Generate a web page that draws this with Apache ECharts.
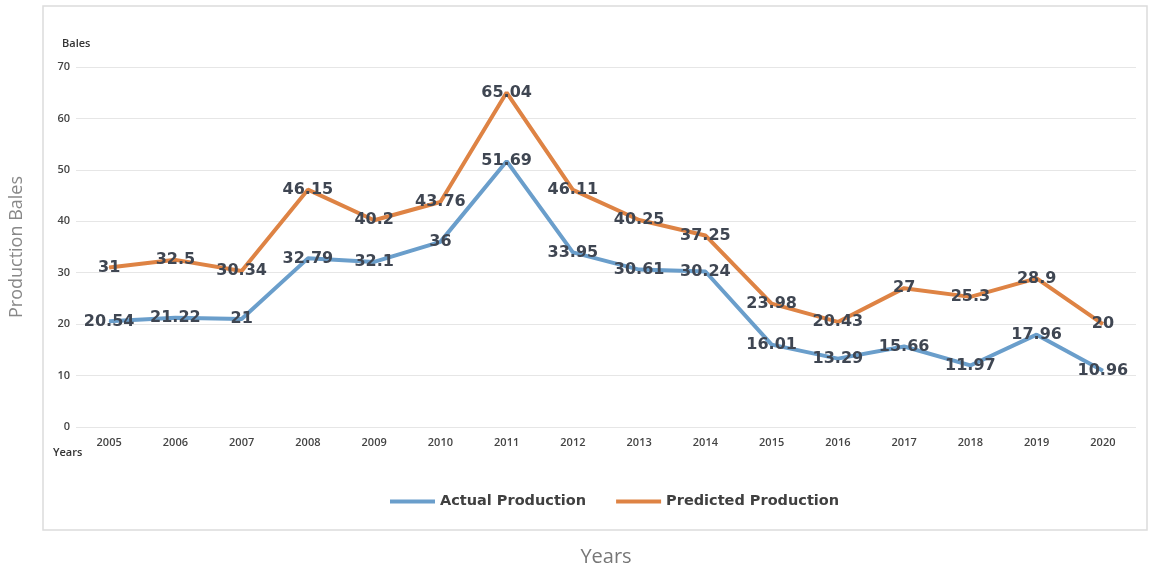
<!DOCTYPE html>
<html>
<head>
<meta charset="utf-8">
<script src="https://cdn.jsdelivr.net/npm/echarts@6/dist/echarts.min.js"></script>
<style>
  html, body { margin: 0; padding: 0; background: #fff; }
  #main { width: 1158px; height: 572px; }
</style>
</head>
<body>
<div id="main"></div>
<script>
// data
const years = ['2005', '2006', '2007', '2008', '2009', '2010', '2011', '2012',
  '2013', '2014', '2015', '2016', '2017', '2018', '2019', '2020'];
const actualProduction = [20.54, 21.22, 21, 32.79, 32.1, 36, 51.69, 33.95,
  30.61, 30.24, 16.01, 13.29, 15.66, 11.97, 17.96, 10.96];
const predictedProduction = [31, 32.5, 30.34, 46.15, 40.2, 43.76, 65.04, 46.11,
  40.25, 37.25, 23.98, 20.43, 27, 25.3, 28.9, 20];
const yTicks = [0, 10, 20, 30, 40, 50, 60, 70];

const chart = echarts.init(document.getElementById('main'));

// label look shared by both lines
const pointLabel = {
  show: true,
  position: 'inside',
  fontFamily: 'DejaVu Sans',
  fontWeight: 'bold',
  fontSize: 16,
  color: '#3f4652'
};

chart.setOption({
  animation: false,
  textStyle: { fontFamily: 'Open Sans' },
  grid: { left: 70, right: 22, top: 67, bottom: 142 },
  graphic: [
    {
      type: 'rect',
      shape: { x: 43, y: 6, width: 1104, height: 524 },
      style: { fill: 'none', stroke: '#dcdcdc', lineWidth: 1.5 },
      z: -1
    },
    {
      type: 'text', left: 62, top: 38,
      style: { text: 'Bales', fontSize: 11, fontWeight: 600, fill: '#333', fontFamily: 'Open Sans' }
    },
    {
      type: 'text', left: 53, top: 447,
      style: { text: 'Years', fontSize: 11, fontWeight: 600, fill: '#333', fontFamily: 'Open Sans' }
    }
  ],
  legend: {
    bottom: 58,
    left: 385,
    itemWidth: 45,
    itemHeight: 4,
    itemGap: 30,
    icon: 'rect',
    textStyle: { fontSize: 14.5, fontWeight: 'bold', color: '#404040', fontFamily: 'DejaVu Sans' },
    data: ['Actual Production', 'Predicted Production']
  },
  xAxis: {
    type: 'category',
    data: years,
    boundaryGap: true,
    axisLine: { show: false },
    axisTick: { show: false },
    axisLabel: { fontSize: 11, fontWeight: 600, color: '#444', margin: 10 },
    name: 'Years',
    nameLocation: 'middle',
    nameGap: 120,
    nameTextStyle: { fontSize: 20, color: '#777' }
  },
  yAxis: {
    type: 'value',
    min: yTicks[0],
    max: yTicks[yTicks.length - 1],
    interval: 10,
    axisLine: { show: false },
    axisTick: { show: false },
    axisLabel: { fontSize: 11, fontWeight: 600, color: '#444', margin: 6 },
    splitLine: { lineStyle: { color: '#e6e6e6' } },
    name: 'Production Bales',
    nameLocation: 'middle',
    nameGap: 50,
    nameTextStyle: { fontSize: 18, color: '#888' }
  },
  series: [
    {
      name: 'Actual Production',
      type: 'line',
      data: actualProduction,
      symbol: 'circle',
      symbolSize: 1,
      color: '#6a9ecb',
      lineStyle: { width: 4 },
      label: pointLabel
    },
    {
      name: 'Predicted Production',
      type: 'line',
      data: predictedProduction,
      symbol: 'circle',
      symbolSize: 1,
      color: '#de8344',
      lineStyle: { width: 4 },
      label: pointLabel
    }
  ]
});
</script>
</body>
</html>
